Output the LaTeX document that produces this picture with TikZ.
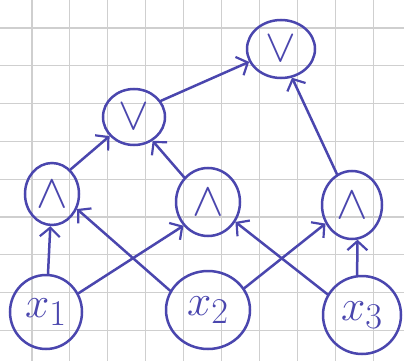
\documentclass[tikz,border=0pt]{standalone}
\usepackage{graphicx}
\usetikzlibrary{shapes.geometric,arrows.meta}
\definecolor{pen}{HTML}{4A46AE}
\definecolor{gridc}{HTML}{CFCFCF}
\tikzset{
  gate/.style={ellipse,draw=pen,line width=2.5pt,inner sep=0pt,text=pen},
  wire/.style={draw=pen,line width=2.5pt,line cap=round,-{Straight Barb[length=9pt,width=20pt,line width=2.2pt]}},
}
\newcommand{\gsym}[1]{\scalebox{1.9}{\Huge$#1$}}
\newcommand{\xsym}[1]{\scalebox{1.75}{\Huge$#1$}}
\newcommand{\vsym}[1]{\scalebox{1.85}{\Huge$#1$}}
\begin{document}
\begin{tikzpicture}[x=1pt,y=-1pt]
\useasboundingbox (0,0) rectangle (404,361);
\fill[white] (0,0) rectangle (404,361);
\foreach \k in {0,...,9} \draw[gridc,line width=1.1pt] ({32+37.9*\k},0) -- ({32+37.9*\k},361);
\foreach \k in {0,...,8} \draw[gridc,line width=1.1pt] (0,{28+37.8*\k}) -- (404,{28+37.8*\k});
% nodes
\node[gate,minimum width=68,minimum height=58] (v2) at (281,49) {\vsym{\vee}};
\node[gate,minimum width=62,minimum height=56] (v1) at (134,117) {\vsym{\vee}};
\node[gate,minimum width=54,minimum height=62] (a1) at (52,194) {\gsym{\wedge}};
\node[gate,minimum width=64,minimum height=68] (a2) at (208,202) {\gsym{\wedge}};
\node[gate,minimum width=60,minimum height=68] (a3) at (352,205) {\gsym{\wedge}};
\node[gate,minimum width=72,minimum height=74] (x1) at (46,312) {\xsym{x_1}};
\node[gate,minimum width=84,minimum height=78] (x2) at (208,310) {\xsym{x_2}};
\node[gate,minimum width=78,minimum height=78] (x3) at (362,315) {\xsym{x_3}};
% wires
\draw[wire] (x1.87) -- (a1.267);
\draw[wire] (x1.30) -- (a2.224);
\draw[wire] (x2.153) -- (a1.329);
\draw[wire] (x2.31) -- (a3.215);
\draw[wire] (x3.149) -- (a2.324);
\draw[wire] (x3.97) -- (a3.279);
\draw[wire] (a1.53) -- (v1.218);
\draw[wire] (a2.134) -- (v1.308);
\draw[wire] (v1.31) -- (v2.202);
\draw[wire] (a3.116) -- (v2.291);
\end{tikzpicture}
\end{document}
